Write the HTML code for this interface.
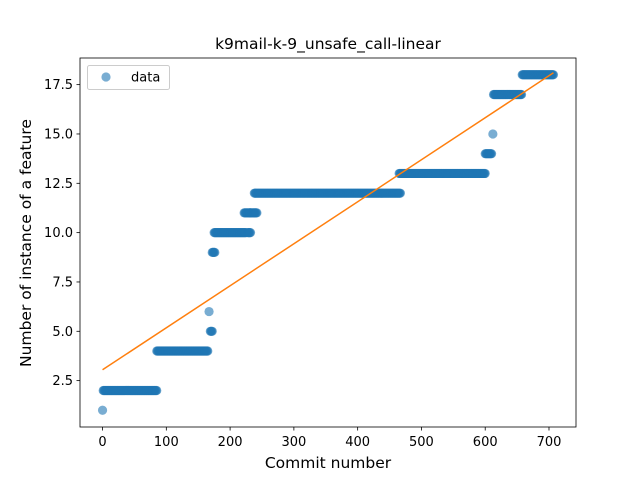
<!DOCTYPE html>
<html><head><meta charset="utf-8"><style>
body{margin:0;background:#fff;font-family:"DejaVu Sans","Liberation Sans",sans-serif}
svg text{font-family:"DejaVu Sans","Liberation Sans",sans-serif}
</style></head><body>
<svg id="c" width="640" height="480"></svg>
<script>
const segStart=[0,1,85,167,169,172,175,222,228,231,238,465,600,612,613,658];
const segEnd  =[0,85,165,167,172,176,225,232,232,242,467,600,610,612,657,707];
const segValue=[1,2,4,6,5,9,10,11,10,11,12,13,14,15,17,18];
const fitX=[0,707];
const fitY=[3.05,18.1];
const xTicks=[0,100,200,300,400,500,600,700];
const yTicks=[2.5,5.0,7.5,10.0,12.5,15.0,17.5];
const L=80,R=576,T=58,B=427;
const xmin=-35.35,xmax=742.35,ymin=0.15,ymax=18.85;
const sx=v=>L+(v-xmin)/(xmax-xmin)*(R-L);
const sy=v=>B-(v-ymin)/(ymax-ymin)*(B-T);
const svg=document.getElementById('c');
const NS='http://www.w3.org/2000/svg';
function mk(t,a,p){const e=document.createElementNS(NS,t);for(const k in a)e.setAttribute(k,a[k]);(p||svg).appendChild(e);return e;}
const pts=mk('g',{});


for(let i=0;i<segStart.length;i++){
  for(let x=segStart[i];x<=segEnd[i];x++){
    const c=mk('circle',{cx:sx(x),cy:sy(segValue[i]),r:4.6,fill:'#1f77b4','fill-opacity':0.6},pts);
    
    
  }
}
const fl=mk('line',{x1:sx(fitX[0]),y1:sy(fitY[0]),x2:sx(fitX[1]),y2:sy(fitY[1]),stroke:'#ff7f0e','stroke-width':1.5});


const fr=mk('rect',{x:L,y:T,width:R-L,height:B-T,fill:'none',stroke:'#000','stroke-width':0.8});


xTicks.forEach(v=>{
  mk('line',{x1:sx(v),x2:sx(v),y1:B,y2:B+3.5,stroke:'#000','stroke-width':0.8});
  const t=mk('text',{x:sx(v),y:B+19,'font-size':13,'text-anchor':'middle'});t.textContent=v;
  
  
});
yTicks.forEach(v=>{
  mk('line',{x1:L-3.5,x2:L,y1:sy(v),y2:sy(v),stroke:'#000','stroke-width':0.8});
  const t=mk('text',{x:L-7,y:sy(v)+4.5,'font-size':13,'text-anchor':'end'});t.textContent=v.toFixed(1);
  
  
});
</script>
<svg style="position:absolute;left:0;top:0" width="640" height="480">
<text x="328" y="49" font-size="15.5" text-anchor="middle">k9mail-k-9_unsafe_call-linear</text>
<text x="328" y="468" font-size="15.5" text-anchor="middle">Commit number</text>
<text transform="translate(31,243) rotate(-90)" font-size="15.5" text-anchor="middle">Number of instance of a feature</text>
<g>
<rect x="87.5" y="65.5" width="82" height="24" rx="2" fill="#fff" fill-opacity="0.8" stroke="#ccc"/>
<circle cx="106" cy="77" r="4.6" fill="#1f77b4" fill-opacity="0.6"/>
<text x="131" y="81.5" font-size="13">data</text>
</g>
</svg>
</body></html>
